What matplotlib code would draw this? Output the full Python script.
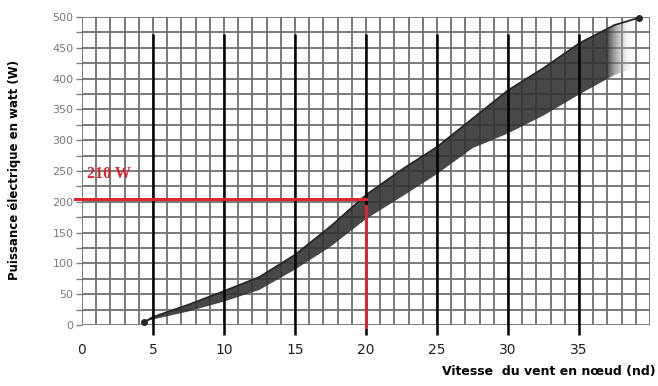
import numpy as np
import matplotlib
matplotlib.use("Agg")
import matplotlib.pyplot as plt
from matplotlib.colors import LinearSegmentedColormap

# courbe de puissance (bande)
vitesse = [4.4, 5, 7.5, 10, 12.5, 15, 17.5, 20, 22.5, 25, 27.5, 30, 32.5, 35, 37.5, 39.25]
p_haut = [5, 13, 33, 55, 78, 114, 160, 211, 252, 289, 335, 381, 417, 457, 487, 499]
p_bas = [5, 9, 22, 38, 57, 90, 127, 172, 208, 245, 287, 311, 340, 374, 406, 420]

x_labels = [0, 5, 10, 15, 20, 25, 30, 35]
y_labels = [0, 50, 100, 150, 200, 250, 300, 350, 400, 450, 500]
lignes_noires = [5, 10, 15, 20, 25, 30, 35]
v_lue = 20
p_lue = 205
texte_lu = "210 W"

fig = plt.figure(figsize=(6.58, 3.86), dpi=100)
ax = fig.add_axes([82/658, 61/386, 568/658, 308/386])
ax.set_xlim(0, 40)
ax.set_ylim(0, 500)

# grille fine
ax.set_xticks(x_labels)
ax.set_xticks(np.arange(0, 41, 1), minor=True)
ax.set_yticks(y_labels)
ax.set_yticks(np.arange(0, 501, 25), minor=True)
ax.grid(True, which="both", color="#707070", lw=1.3, zorder=0)
for s in ax.spines.values():
    s.set_visible(False)

ax.tick_params(axis="x", which="both", length=0, pad=13, labelsize=10, labelcolor="#222222")
ax.tick_params(axis="y", which="both", length=4, width=1, color="#808080", pad=2,
               labelsize=8, labelcolor="#7a7a7a")

# bande grise avec fondu a droite
poly = ax.fill_between(vitesse, p_bas, p_haut, facecolor="none", edgecolor="none")
grad_x = np.linspace(0, 40, 400)
alpha = np.clip((39.0 - grad_x) / 2.0, 0, 1)
cmap = LinearSegmentedColormap.from_list("fade", [(1, 1, 1, 0), (0.2, 0.2, 0.2, 0.9)])
img = ax.imshow(alpha[np.newaxis, :], extent=[0, 40, 0, 500], aspect="auto",
                cmap=cmap, vmin=0, vmax=1, origin="lower", zorder=2)
img.set_clip_path(poly.get_paths()[0], ax.transData)
ax.set_xlim(0, 40)
ax.set_ylim(0, 500)
ax.plot(vitesse, p_haut, color="#262626", lw=1.3, zorder=3)
ax.plot([vitesse[0], vitesse[-1]], [p_haut[0], p_haut[-1]], "o", color="#262626",
        ms=4, zorder=3, clip_on=False)

# traits noirs verticaux
ax.vlines(lignes_noires, -16, 473, color="black", lw=1.8, zorder=4, clip_on=False)

# lecture en rouge
ax.plot([-0.5, v_lue], [p_lue, p_lue], color="#d9262f", lw=2.2, zorder=5, clip_on=False)
ax.plot([v_lue, v_lue], [p_lue - 12, -3], color="#d9262f", lw=2.2, zorder=5, clip_on=False)
ax.text(0.35, 239, texte_lu, color="#d9262f", fontsize=11.5, fontweight="bold",
        family="Liberation Serif", zorder=6)

fig.text(15/658, 1 - 170/386, "Puissance électrique en watt (W)", rotation=90,
         ha="center", va="center", fontsize=8.5, fontweight="bold")
fig.text(656/658, 1 - 372/386, "Vitesse  du vent en nœud (nd)", ha="right",
         va="center", fontsize=9, fontweight="bold")

fig.savefig("out.png", dpi=100)
